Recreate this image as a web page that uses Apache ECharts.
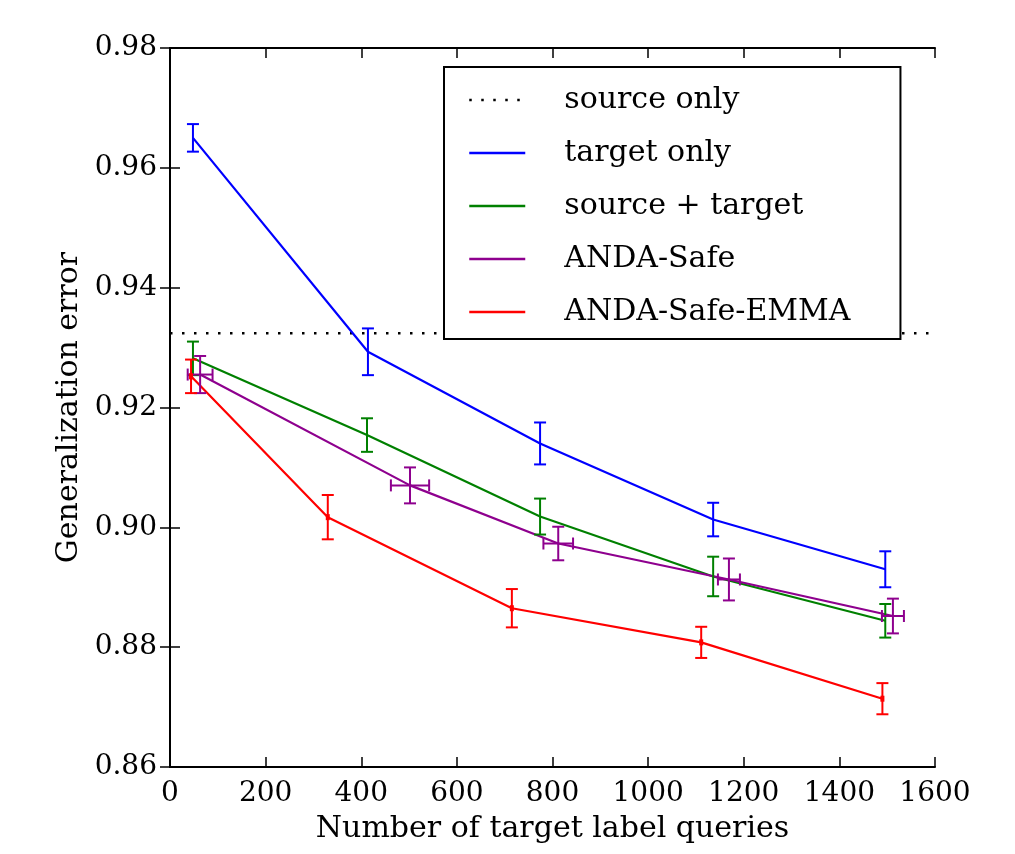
<!DOCTYPE html>
<html>
<head>
<meta charset="utf-8">
<script src="https://cdn.jsdelivr.net/npm/echarts@6/dist/echarts.min.js"></script>
<style>html,body{margin:0;padding:0;background:#fff}#c{width:1015px;height:854px}</style>
</head>
<body>
<div id="c"></div>
<script>
// ---- data ----
const sourceOnly = 0.9324;
const xTicks = [0, 200, 400, 600, 800, 1000, 1200, 1400, 1600];
const yTicks = [0.86, 0.88, 0.90, 0.92, 0.94, 0.96, 0.98];

const targetX = [48, 414, 774, 1136, 1496];
const targetY = [0.9650, 0.9293, 0.9140, 0.9013, 0.8930];
const targetErr = [0.0023, 0.0039, 0.0035, 0.0028, 0.0030];

const bothX = [48, 412, 774, 1136, 1496];
const bothY = [0.9282, 0.9154, 0.9018, 0.8918, 0.8844];
const bothErr = [0.0028, 0.0028, 0.0030, 0.0033, 0.0028];

const safeX = [63, 502, 812, 1169, 1512];
const safeY = [0.9255, 0.9070, 0.8973, 0.8913, 0.8852];
const safeErr = [0.0031, 0.0030, 0.0028, 0.0035, 0.0029];
const safeXErr = [26, 40, 31, 23, 23];

const emmaX = [44, 330, 715, 1111, 1490];
const emmaY = [0.9252, 0.9017, 0.8865, 0.8808, 0.8714];
const emmaErr = [0.0028, 0.0037, 0.0032, 0.0026, 0.0026];

const names = ['source only', 'target only', 'source + target', 'ANDA-Safe', 'ANDA-Safe-EMMA'];
const colors = ['#000000', '#0000ff', '#008000', '#8e008e', '#ff0000'];

// ---- build ----
const font = 'DejaVu Serif';
function pts(xs, ys) { return xs.map((x, i) => [x, ys[i]]); }
function errData(xs, ys, es, xes) { return xs.map((x, i) => [x, ys[i], es[i], xes ? xes[i] : 0]); }

function errSeries(name, data, color, marker) {
  return {
    name: name, type: 'custom', data: data, z: 3,
    encode: { x: 0, y: 1 },
    renderItem: function (params, api) {
      const x = api.value(0), y = api.value(1), ey = api.value(2), ex = api.value(3);
      const t = api.coord([x, y + ey]), b = api.coord([x, y - ey]), c = api.coord([x, y]);
      const st = { stroke: color, lineWidth: 2 };
      const cap = 6;
      const ch = [
        { type: 'line', shape: { x1: t[0], y1: t[1], x2: b[0], y2: b[1] }, style: st },
        { type: 'line', shape: { x1: t[0] - cap, y1: t[1], x2: t[0] + cap, y2: t[1] }, style: st },
        { type: 'line', shape: { x1: b[0] - cap, y1: b[1], x2: b[0] + cap, y2: b[1] }, style: st }
      ];
      if (ex > 0) {
        const l = api.coord([x - ex, y]), r = api.coord([x + ex, y]);
        ch.push({ type: 'line', shape: { x1: l[0], y1: l[1], x2: r[0], y2: r[1] }, style: st });
        ch.push({ type: 'line', shape: { x1: l[0], y1: l[1] - cap, x2: l[0], y2: l[1] + cap }, style: st });
        ch.push({ type: 'line', shape: { x1: r[0], y1: r[1] - cap, x2: r[0], y2: r[1] + cap }, style: st });
      }
      if (marker) {
        ch.push({ type: 'rect', shape: { x: c[0] - 2, y: c[1] - 3, width: 4, height: 6 }, style: { fill: color } });
      }
      return { type: 'group', children: ch };
    }
  };
}
function lineSeries(name, data, color, extra) {
  return Object.assign({
    name: name, type: 'line', data: data, symbol: 'none', z: 2,
    lineStyle: { color: color, width: 2.2 }, itemStyle: { color: color }
  }, extra || {});
}

const axisLabelStyle = { fontFamily: font, fontSize: 28, color: '#000' };
const option = {
  animation: false,
  backgroundColor: '#fff',
  grid: { left: 170, right: 80, top: 48, bottom: 87 },
  legend: {
    data: names, orient: 'vertical', left: 444, top: 67,
    itemWidth: 56, itemHeight: 14, itemGap: 21,
    padding: [17, 50, 11, 24],
    backgroundColor: '#fff', borderColor: '#000', borderWidth: 2,
    itemStyle: { color: 'rgba(0,0,0,0)', borderWidth: 0, opacity: 0 },
    lineStyle: { width: 2.5 },
    textStyle: { fontFamily: font, fontSize: 30, color: '#000', lineHeight: 32, padding: [0, 0, 0, 34] },
    selectedMode: false
  },
  xAxis: [{
    type: 'value', min: 0, max: 1600, interval: 200,
    name: 'Number of target label queries', nameLocation: 'middle', nameGap: 47,
    nameTextStyle: { fontFamily: font, fontSize: 30, color: '#000' },
    axisLine: { show: true, lineStyle: { color: '#000', width: 2 } },
    axisTick: { show: true, inside: true, length: 10, lineStyle: { color: '#000', width: 1.5 } },
    axisLabel: Object.assign({ margin: 13, formatter: v => String(v) }, axisLabelStyle),
    splitLine: { show: false }
  }, {
    type: 'value', position: 'top', min: 0, max: 1600, interval: 200,
    axisLine: { show: true, lineStyle: { color: '#000', width: 2 } },
    axisTick: { show: true, inside: true, length: 10, lineStyle: { color: '#000', width: 1.5 } },
    axisLabel: { show: false }, splitLine: { show: false }
  }],
  yAxis: [{
    type: 'value', min: 0.86, max: 0.98, interval: 0.02,
    name: 'Generalization error', nameLocation: 'middle', nameGap: 74,
    nameTextStyle: { fontFamily: font, fontSize: 30, color: '#000' },
    axisLine: { show: true, lineStyle: { color: '#000', width: 2 } },
    axisTick: { show: true, inside: true, length: 10, lineStyle: { color: '#000', width: 1.5 } },
    axisLabel: Object.assign({ margin: 13, formatter: v => v.toFixed(2) }, axisLabelStyle),
    splitLine: { show: false }
  }, {
    type: 'value', position: 'right', min: 0.86, max: 0.98, interval: 0.02,
    axisLine: { show: true, lineStyle: { color: '#000', width: 2 } },
    axisTick: { show: true, inside: true, length: 10, lineStyle: { color: '#000', width: 1.5 } },
    axisLabel: { show: false }, splitLine: { show: false }
  }],
  series: [
    lineSeries(names[0], [[0, sourceOnly], [1600, sourceOnly]], colors[0], { lineStyle: { color: colors[0], width: 2.5, type: [2.5, 9.5] } }),
    lineSeries(names[1], pts(targetX, targetY), colors[1]),
    lineSeries(names[2], pts(bothX, bothY), colors[2]),
    lineSeries(names[3], pts(safeX, safeY), colors[3]),
    lineSeries(names[4], pts(emmaX, emmaY), colors[4]),
    errSeries('err1', errData(targetX, targetY, targetErr), colors[1]),
    errSeries('err2', errData(bothX, bothY, bothErr), colors[2]),
    errSeries('err3', errData(safeX, safeY, safeErr, safeXErr), colors[3]),
    errSeries('err4', errData(emmaX, emmaY, emmaErr), colors[4], true)
  ]
};
echarts.init(document.getElementById('c'), null, { renderer: 'canvas' }).setOption(option);
</script>
</body>
</html>
